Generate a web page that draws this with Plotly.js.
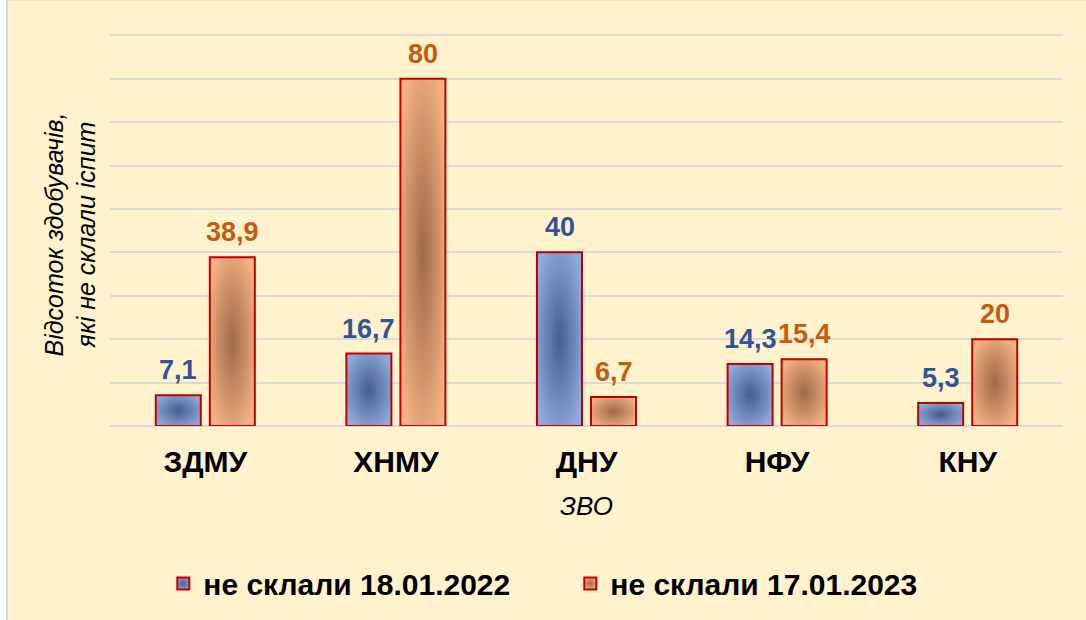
<!DOCTYPE html>
<html>
<head>
<meta charset="utf-8">
<script src="https://cdn.plot.ly/plotly-3.0.1.min.js"></script>
<style>html,body{margin:0;padding:0;background:#fff}</style>
</head>
<body>
<div id="chart" style="width:1086px;height:620px"></div>
<script>
const categories = ['ЗДМУ', 'ХНМУ', 'ДНУ', 'НФУ', 'КНУ'];
const values2022 = [7.1, 16.7, 40, 14.3, 5.3];
const values2023 = [38.9, 80, 6.7, 15.4, 20];
const seriesNames = ['не склали 18.01.2022', 'не склали 17.01.2023'];
const yTitle = 'Відсоток здобувачів,<br>які не склали іспит';
const xTitle = 'ЗВО';

const FONT = 'Liberation Sans, Arial, sans-serif';
const fmt = v => String(v).replace('.', ',');

const traces = [
  {type: 'bar', name: seriesNames[0], x: categories, y: values2022,
   marker: {color: '#6F8CC0', line: {color: '#C00000', width: 2}}, hoverinfo: 'skip'},
  {type: 'bar', name: seriesNames[1], x: categories, y: values2023,
   marker: {color: '#D8956A', line: {color: '#C00000', width: 2}}, hoverinfo: 'skip'}
];

const annotations = [];
categories.forEach((c, i) => {
  annotations.push({x: c, y: values2022[i], xref: 'x', yref: 'y', text: fmt(values2022[i]),
    showarrow: false, xanchor: 'center', yanchor: 'bottom', xshift: -27, yshift: 8,
    font: {family: FONT, size: 27, color: '#2F5597', weight: 700}});
  annotations.push({x: c, y: values2023[i], xref: 'x', yref: 'y', text: fmt(values2023[i]),
    showarrow: false, xanchor: 'center', yanchor: 'bottom', xshift: 27, yshift: 8,
    font: {family: FONT, size: 27, color: '#C55A11', weight: 700}});
});
annotations.push({xref: 'paper', yref: 'paper', x: 0, y: 0.5, xshift: -40, yshift: -6, xanchor: 'center', yanchor: 'middle',
  text: yTitle, textangle: -90, showarrow: false,
  font: {family: FONT, size: 25, color: '#000', style: 'italic'}});
annotations.push({xref: 'paper', yref: 'paper', x: 0.5, y: 0, yshift: -80, xanchor: 'center', yanchor: 'middle',
  text: xTitle, showarrow: false,
  font: {family: FONT, size: 26, color: '#000', style: 'italic'}});

const layout = {
  width: 1086, height: 620,
  margin: {l: 110, r: 23, t: 30.6, b: 193},
  paper_bgcolor: '#FFFFFF', plot_bgcolor: 'rgba(0,0,0,0)',
  barmode: 'group', bargap: 0.433, bargroupgap: 0.167,
  showlegend: true,
  legend: {orientation: 'h', x: 0.483, xanchor: 'center', y: -0.395, yanchor: 'middle',
    font: {family: FONT, size: 30, color: '#000', weight: 700}, bgcolor: 'rgba(0,0,0,0)',
    entrywidth: 362, traceorder: 'normal'},
  xaxis: {type: 'category', tickfont: {family: FONT, size: 30, color: '#000', weight: 700},
    ticks: '', showline: false, showgrid: false, ticklabelstandoff: 15, fixedrange: true},
  yaxis: {range: [0, 91], dtick: 10, showticklabels: false, showgrid: true,
    gridcolor: '#D9D9D9', gridwidth: 2, zeroline: true, zerolinecolor: '#D9D9D9', zerolinewidth: 2,
    showline: false, ticks: '', fixedrange: true},
  shapes: [{type: 'rect', xref: 'paper', yref: 'paper', x0: -0.1081, x1: 1.2, y0: -0.7, y1: 1.08,
    fillcolor: '#FFF2CC', line: {color: '#D9D9D9', width: 2}, layer: 'below'}],
  annotations: annotations
};

Plotly.newPlot('chart', traces, layout, {displayModeBar: false, staticPlot: true}).then(gd => {
  const svg = gd.querySelector('svg.main-svg');
  const ns = 'http://www.w3.org/2000/svg';
  const defs = document.createElementNS(ns, 'defs');
  const mk = (id, inner, outer) => {
    const g = document.createElementNS(ns, 'radialGradient');
    g.setAttribute('id', id); g.setAttribute('cx', '0.5'); g.setAttribute('cy', '0.5'); g.setAttribute('r', '0.6');
    [[0, inner], [1, outer]].forEach(([o, c]) => {
      const s = document.createElementNS(ns, 'stop');
      s.setAttribute('offset', o); s.setAttribute('stop-color', c); g.appendChild(s);
    });
    defs.appendChild(g);
  };
  mk('gBlue', '#475D8B', '#8FAADC');
  mk('gOrange', '#9C6A46', '#F4B183');
  svg.insertBefore(defs, svg.firstChild);
  const ids = ['gBlue', 'gOrange'];
  gd.querySelectorAll('.barlayer .trace').forEach((t, i) => {
    t.querySelectorAll('path').forEach(p => { p.style.fill = 'url(#' + ids[i] + ')'; });
  });
  gd.querySelectorAll('.legend .traces').forEach((t, i) => {
    t.querySelectorAll('.legendpoints path').forEach(p => { p.style.fill = 'url(#' + ids[i] + ')'; });
  });
});
</script>
</body>
</html>
